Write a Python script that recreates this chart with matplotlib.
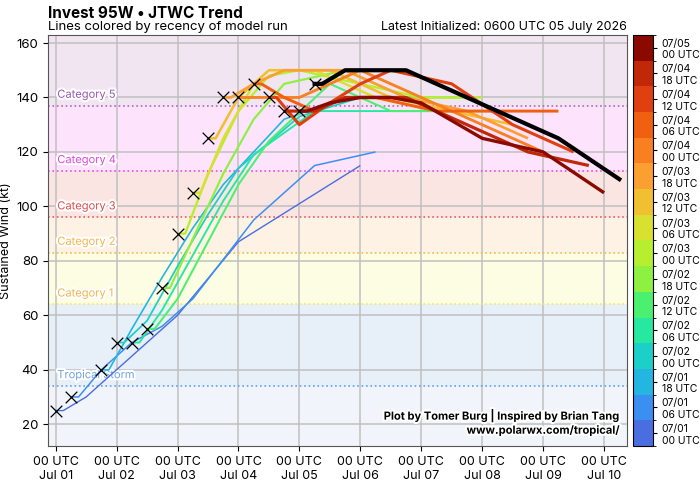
import numpy as np
import matplotlib
matplotlib.use("Agg")
import matplotlib.pyplot as plt
import matplotlib.patheffects as pe
from matplotlib.colors import ListedColormap, BoundaryNorm
from matplotlib.cm import ScalarMappable

plt.rcParams['font.family'] = ['Inter', 'DejaVu Sans']

# model runs: hours after 00 UTC 01 July, wind (kt) at each forecast tau
run_labels = ["07/01\n00 UTC", "07/01\n06 UTC", "07/01\n18 UTC", "07/02\n00 UTC",
              "07/02\n06 UTC", "07/02\n12 UTC", "07/02\n18 UTC", "07/03\n00 UTC",
              "07/03\n06 UTC", "07/03\n12 UTC", "07/03\n18 UTC", "07/04\n00 UTC",
              "07/04\n06 UTC", "07/04\n12 UTC", "07/04\n18 UTC", "07/05\n00 UTC"]
run_hours = [0, 6, 18, 24, 30, 36, 42, 48, 54, 60, 66, 72, 78, 84, 90, 96]
run_colors = ["#4a6de0", "#3b8ff0", "#22b6e0", "#1bd0c8", "#26e8a0", "#4cf070",
              "#8ef040", "#b8ee30", "#d8e030", "#f0c030", "#fba030", "#f88020",
              "#f06010", "#e04010", "#c02808", "#8b0a00"]
taus = [0, 3, 12, 24, 36, 48, 72, 96, 120]
winds = [
    [25, 25, 30, 40, 50, 60, 87, 101, 115],
    [30, 30, 40, 50, 56, 66, 95, 115, 120],
    [40, 40, 55, 74, 92, 108, 132, 140, 140],
    [50, 50, 58, 78, 97, 114, 133, 140, 140],
    [50, 50, 62, 82, 102, 119, 135, 135, 135],
    [55, 55, 66, 87, 108, 124, 145, 135, 135],
    [70, 70, 88, 112, 132, 145, 150, 140, 140],
    [90, 90, 112, 135, 148, 150, 145, 140, 140],
    [105, 105, 125, 145, 150, 150, 140, 135, 135],
    [125, 125, 140, 150, 150, 150, 140, 135, 130],
    [140, 140, 145, 150, 150, 150, 140, 135, 125],
    [140, 140, 140, 140, 145, 150, 140, 130, 120],
    [145, 145, 140, 135, 140, 140, 135, 135, 135],
    [140, 140, 130, 138, 145, 150, 145, 130, 120],
    [135, 135, 135, 140, 140, 140, 130, 120, 115],
    [135, 135, 138, 140, 140, 138, 125, 120, 105],
]
latest_hour = 102
latest_winds = [145, 145, 150, 150, 150, 145, 135, 125, 110]

# Saffir-Simpson categories
cat_names = ["Tropical Storm", "Category 1", "Category 2", "Category 3", "Category 4", "Category 5"]
cat_bounds = [34, 64, 83, 96, 113, 137]
band_colors = ["#f1f5fb", "#e7eff8", "#fdfde4", "#fdf2e3", "#fbe5e3", "#fde3fb", "#f1e5f1"]
cat_line_colors = ["#63a0ee", "#f5e85a", "#f7b84a", "#ea5a5a", "#e94ae6", "#b266c6"]
cat_text_colors = ["#6fa2e0", "#f4b54a", "#f4b54a", "#e04a4a", "#e445e4", "#9d55b3"]

day_ticks = [0, 24, 48, 72, 96, 120, 144, 168, 192, 216]
day_labels = ["00 UTC\nJul 01", "00 UTC\nJul 02", "00 UTC\nJul 03", "00 UTC\nJul 04",
              "00 UTC\nJul 05", "00 UTC\nJul 06", "00 UTC\nJul 07", "00 UTC\nJul 08",
              "00 UTC\nJul 09", "00 UTC\nJul 10"]

fig = plt.figure(figsize=(7, 4.82), dpi=100)
ax = fig.add_axes([0.0686, 0.0747, 0.827, 0.853])
ax.set_xlim(-3, 225)
ax.set_ylim(12, 163)

# category shading
edges = [0] + cat_bounds + [200]
for i in range(len(edges) - 1):
    ax.axhspan(edges[i], edges[i + 1], color=band_colors[i], zorder=0, lw=0)
for b, c in zip(cat_bounds, cat_line_colors):
    ax.axhline(b, color=c, ls=":", lw=1.2, zorder=1)
txt_fx = [pe.withStroke(linewidth=3, foreground="white")]
for name, b, c in zip(cat_names, cat_bounds, cat_text_colors):
    ax.text(0.016, b + 4, name, color=c, fontsize=8, va="center", ha="left",
            transform=ax.get_yaxis_transform(), path_effects=txt_fx, zorder=2)

ax.grid(True, color="#c0c0c0", lw=1.1, zorder=1)
ax.set_axisbelow(True)

# forecast lines
widths = np.linspace(1.0, 2.4, len(winds))
for i, w in enumerate(winds):
    x = [run_hours[i] + t for t in taus]
    ax.plot(x, w, color=run_colors[i], lw=widths[i], zorder=3, solid_capstyle="butt")
ax.plot([latest_hour + t for t in taus], latest_winds, color="black", lw=3.0, zorder=4)

# initial intensity markers
init_x = run_hours + [latest_hour]
init_y = [w[0] for w in winds] + [latest_winds[0]]
ax.scatter(init_x, init_y, marker="x", s=70, c="black", lw=0.9, zorder=5)

ax.set_xticks(day_ticks)
ax.set_xticklabels(day_labels, fontsize=9)
ax.set_yticks(range(20, 161, 20))
ax.tick_params(axis="y", labelsize=9.5)
ax.set_ylabel("Sustained Wind (kt)", fontsize=9)
ax.yaxis.set_label_coords(-0.062, 0.5)
for s in ax.spines.values():
    s.set_color("#555555")

fig.text(0.0686, 0.972, "Invest 95W \u2022 JTWC Trend", fontsize=11, fontweight="bold", ha="left", va="center")
fig.text(0.0686, 0.943, "Lines colored by recency of model run", fontsize=9.5, ha="left", va="center")
fig.text(0.8957, 0.943, "Latest Initialized: 0600 UTC 05 July 2026", fontsize=9, ha="right", va="center")

ax.text(0.99, 0.025, "Plot by Tomer Burg | Inspired by Brian Tang\nwww.polarwx.com/tropical/",
        transform=ax.transAxes, ha="right", va="bottom", fontsize=8, fontweight="bold",
        linespacing=1.3, path_effects=txt_fx, zorder=6)

# colorbar of model runs
cmap = ListedColormap(run_colors)
norm = BoundaryNorm(np.arange(len(run_colors) + 1), cmap.N)
cax = fig.add_axes([0.904, 0.0747, 0.0286, 0.853])
cb = fig.colorbar(ScalarMappable(norm=norm, cmap=cmap), cax=cax)
cb.set_ticks(np.arange(len(run_colors)) + 0.5)
cb.set_ticklabels(run_labels)
cb.ax.tick_params(labelsize=7.5, length=3)

fig.savefig("out.png", dpi=100)
